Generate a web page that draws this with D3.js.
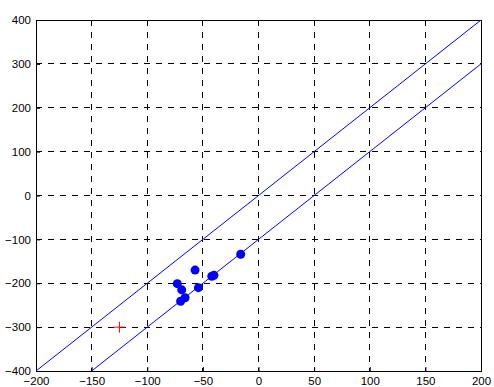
<!DOCTYPE html>
<html>
<head>
<meta charset="utf-8">
<script src="https://cdn.jsdelivr.net/npm/d3@7"></script>
<style>
  body { margin: 0; background: #fff; }
  .tick text { font-family: Arial, "Liberation Sans", sans-serif; font-size: 11.5px; fill: #000; }
</style>
</head>
<body>
<div id="chart"></div>
<script>
// Axis ticks
const xTicks = [-200, -150, -100, -50, 0, 50, 100, 150, 200];
const yTicks = [-400, -300, -200, -100, 0, 100, 200, 300, 400];

// Measured points (blue dots)
const pointsX = [-16, -57, -42, -40, -73, -69, -54, -66, -70];
const pointsY = [-134, -170, -184, -182, -201, -215, -210, -233, -241];

// Reference point (red plus)
const refX = [-125];
const refY = [-300];

// Two boundary lines: y = 2x and y = 2x - 100
const line1X = [-200, 200];
const line1Y = [-400, 400];
const line2X = [-150, 200];
const line2Y = [-400, 300];

const margin = { top: 20, right: 13, bottom: 16, left: 36 };
const width = 494 - margin.left - margin.right;
const height = 387 - margin.top - margin.bottom;

const svg = d3.select("#chart")
  .append("svg")
  .attr("width", 494)
  .attr("height", 387);

const g = svg.append("g").attr("transform", `translate(${margin.left},${margin.top})`);

const x = d3.scaleLinear().domain([-200, 200]).range([0, width]);
const y = d3.scaleLinear().domain([-400, 400]).range([height, 0]);

// Grid
g.append("g")
  .selectAll("line")
  .data(xTicks.slice(1, -1))
  .enter()
  .append("line")
  .attr("x1", d => x(d)).attr("x2", d => x(d))
  .attr("y1", 0).attr("y2", height)
  .style("stroke", "#000")
  .style("stroke-dasharray", "6,6")
  .style("shape-rendering", "crispEdges");

g.append("g")
  .selectAll("line")
  .data(yTicks.slice(1, -1))
  .enter()
  .append("line")
  .attr("y1", d => y(d)).attr("y2", d => y(d))
  .attr("x1", 0).attr("x2", width)
  .style("stroke", "#000")
  .style("stroke-dasharray", "6,6")
  .style("shape-rendering", "crispEdges");

// Axes (ticks inside, MATLAB style)
const xAxis = g.append("g")
  .attr("transform", `translate(0,${height})`)
  .call(d3.axisBottom(x).tickValues(xTicks).tickSizeInner(-4).tickSizeOuter(0).tickPadding(6));

const yAxis = g.append("g")
  .call(d3.axisLeft(y).tickValues(yTicks).tickSizeInner(-4).tickSizeOuter(0).tickPadding(5));

[xAxis, yAxis].forEach(a => {
  a.select(".domain").remove();
  a.selectAll(".tick line").style("stroke", "#000");
});

// Box
g.append("rect")
  .attr("x", 0).attr("y", 0)
  .attr("width", width).attr("height", height)
  .style("fill", "none")
  .style("stroke", "#000")
  .style("shape-rendering", "crispEdges");

// Lines
const lineGen = d3.line().x(d => x(d[0])).y(d => y(d[1]));
[[line1X, line1Y], [line2X, line2Y]].forEach(([lx, ly]) => {
  g.append("path")
    .datum(d3.zip(lx, ly))
    .attr("d", lineGen)
    .style("fill", "none")
    .style("stroke", "#0000ff")
    .style("stroke-width", 1);
});

// Dots
g.selectAll(".dot")
  .data(d3.zip(pointsX, pointsY))
  .enter()
  .append("circle")
  .attr("class", "dot")
  .attr("cx", d => x(d[0]))
  .attr("cy", d => y(d[1]))
  .attr("r", 4.5)
  .style("fill", "#0000ff");

// Red plus
const plus = g.selectAll(".plus")
  .data(d3.zip(refX, refY))
  .enter()
  .append("g")
  .attr("class", "plus")
  .attr("transform", d => `translate(${x(d[0])},${y(d[1])})`);
plus.append("line").attr("x1", -5.5).attr("x2", 5.5).attr("y1", 0).attr("y2", 0)
  .style("stroke", "#ff0000");
plus.append("line").attr("x1", 0).attr("x2", 0).attr("y1", -5.5).attr("y2", 5.5)
  .style("stroke", "#ff0000");
</script>
</body>
</html>
